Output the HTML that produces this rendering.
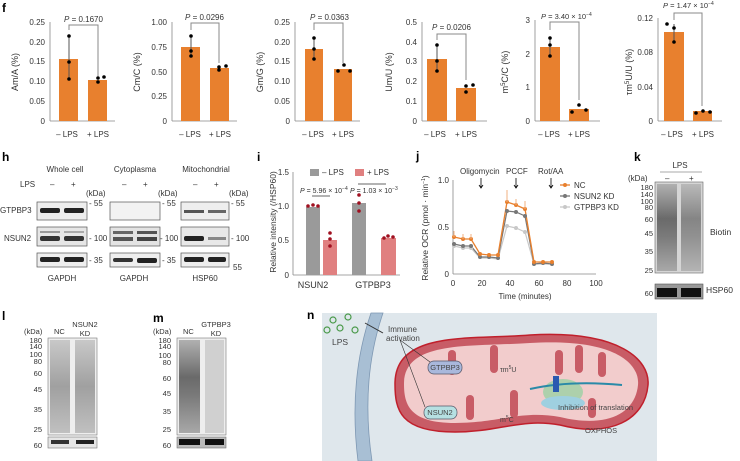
<!DOCTYPE html>
<html><head><meta charset="utf-8"><style>
body{margin:0;background:#fff}
svg{display:block;font-family:"Liberation Sans",sans-serif}
</style></head><body>
<svg width="740" height="461" viewBox="0 0 740 461" xmlns="http://www.w3.org/2000/svg">
<defs>
<linearGradient id="smear" x1="0" y1="0" x2="0" y2="1">
<stop offset="0" stop-color="#b0b0b0"/><stop offset="0.4" stop-color="#6a6a6a"/><stop offset="0.6" stop-color="#7a7a7a"/><stop offset="1" stop-color="#a8a8a8"/></linearGradient>
<linearGradient id="smear2" x1="0" y1="0" x2="0" y2="1">
<stop offset="0" stop-color="#c8c8c8"/><stop offset="0.5" stop-color="#a0a0a0"/><stop offset="1" stop-color="#c0c0c0"/></linearGradient>
</defs>
<g font-size="8" fill="#333">
<text x="2" y="12" font-size="12" font-weight="bold" fill="#000">f</text>
<g>
<line x1="50" y1="22" x2="50" y2="121" stroke="#888" stroke-width="0.8"/>
<line x1="50" y1="121" x2="115" y2="121" stroke="#888" stroke-width="0.8"/>
<g text-anchor="end"><text x="45" y="25">0.25</text><text x="45" y="45">0.20</text><text x="45" y="64">0.15</text><text x="45" y="84">0.10</text><text x="45" y="104">0.05</text><text x="45" y="124">0</text></g>
<rect x="59" y="59" width="19" height="62" fill="#e8802e"/><rect x="88" y="80" width="19" height="41" fill="#e8802e"/>
<line x1="69" y1="36" x2="69" y2="80" stroke="#555"/><circle cx="69" cy="36" r="1.8" fill="#000"/><circle cx="69" cy="62" r="1.8" fill="#000"/><circle cx="69" cy="79" r="1.8" fill="#000"/>
<circle cx="98" cy="82" r="1.8" fill="#000"/><circle cx="98" cy="78" r="1.8" fill="#000"/><circle cx="104" cy="77" r="1.8" fill="#000"/>
<path d="M69 30V25H98V76" fill="none" stroke="#888"/><text x="64" y="22"><tspan font-style="italic">P</tspan> = 0.1670</text>
<text x="67" y="137" text-anchor="middle">– LPS</text><text x="98" y="137" text-anchor="middle">+ LPS</text>
<text transform="translate(18,72) rotate(-90)" text-anchor="middle" font-size="9">Am/A (%)</text>
</g>
<g>
<line x1="172" y1="22" x2="172" y2="121" stroke="#888" stroke-width="0.8"/>
<line x1="172" y1="121" x2="237" y2="121" stroke="#888" stroke-width="0.8"/>
<g text-anchor="end"><text x="167" y="25">1.00</text><text x="167" y="50">0.75</text><text x="167" y="75">0.50</text><text x="167" y="99">0.25</text><text x="167" y="124">0</text></g>
<rect x="181" y="47" width="19" height="74" fill="#e8802e"/><rect x="210" y="68" width="19" height="53" fill="#e8802e"/>
<line x1="191" y1="36" x2="191" y2="57" stroke="#555"/><circle cx="191" cy="36" r="1.8" fill="#000"/><circle cx="191" cy="51" r="1.8" fill="#000"/><circle cx="191" cy="56" r="1.8" fill="#000"/>
<circle cx="219" cy="70" r="1.8" fill="#000"/><circle cx="219" cy="67" r="1.8" fill="#000"/><circle cx="226" cy="66" r="1.8" fill="#000"/>
<path d="M191 30V23H219V63" fill="none" stroke="#888"/><text x="185" y="20"><tspan font-style="italic">P</tspan> = 0.0296</text>
<text x="190" y="137" text-anchor="middle">– LPS</text><text x="220" y="137" text-anchor="middle">+ LPS</text>
<text transform="translate(140,72) rotate(-90)" text-anchor="middle" font-size="9">Cm/C (%)</text>
</g>
<g>
<line x1="295" y1="22" x2="295" y2="121" stroke="#888" stroke-width="0.8"/>
<line x1="295" y1="121" x2="360" y2="121" stroke="#888" stroke-width="0.8"/>
<g text-anchor="end"><text x="290" y="25">0.25</text><text x="290" y="45">0.20</text><text x="290" y="64">0.15</text><text x="290" y="84">0.10</text><text x="290" y="104">0.05</text><text x="290" y="124">0</text></g>
<rect x="305" y="49" width="18" height="72" fill="#e8802e"/><rect x="334" y="69" width="18" height="52" fill="#e8802e"/>
<line x1="314" y1="38" x2="314" y2="59" stroke="#555"/><circle cx="314" cy="38" r="1.8" fill="#000"/><circle cx="314" cy="49" r="1.8" fill="#000"/><circle cx="314" cy="59" r="1.8" fill="#000"/>
<circle cx="338" cy="71" r="1.8" fill="#000"/><circle cx="344" cy="65" r="1.8" fill="#000"/><circle cx="350" cy="71" r="1.8" fill="#000"/>
<path d="M314 30V23H343V63" fill="none" stroke="#888"/><text x="310" y="20"><tspan font-style="italic">P</tspan> = 0.0363</text>
<text x="313" y="137" text-anchor="middle">– LPS</text><text x="343" y="137" text-anchor="middle">+ LPS</text>
<text transform="translate(263,72) rotate(-90)" text-anchor="middle" font-size="9">Gm/G (%)</text>
</g>
<g>
<line x1="422" y1="22" x2="422" y2="121" stroke="#888" stroke-width="0.8"/>
<line x1="422" y1="121" x2="487" y2="121" stroke="#888" stroke-width="0.8"/>
<g text-anchor="end"><text x="417" y="25">0.5</text><text x="417" y="45">0.4</text><text x="417" y="64">0.3</text><text x="417" y="84">0.2</text><text x="417" y="104">0.1</text><text x="417" y="124">0</text></g>
<rect x="427" y="59" width="20" height="62" fill="#e8802e"/><rect x="456" y="88" width="20" height="33" fill="#e8802e"/>
<line x1="437" y1="45" x2="437" y2="71" stroke="#555"/><circle cx="437" cy="45" r="1.8" fill="#000"/><circle cx="437" cy="61" r="1.8" fill="#000"/><circle cx="437" cy="71" r="1.8" fill="#000"/>
<circle cx="466" cy="86" r="1.8" fill="#000"/><circle cx="466" cy="92" r="1.8" fill="#000"/><circle cx="473" cy="85" r="1.8" fill="#000"/>
<path d="M437 40V34H466V80" fill="none" stroke="#888"/><text x="432" y="30"><tspan font-style="italic">P</tspan> = 0.0206</text>
<text x="435" y="137" text-anchor="middle">– LPS</text><text x="466" y="137" text-anchor="middle">+ LPS</text>
<text transform="translate(392,72) rotate(-90)" text-anchor="middle" font-size="9">Um/U (%)</text>
</g>
<g>
<line x1="535" y1="20" x2="535" y2="121" stroke="#888" stroke-width="0.8"/>
<line x1="535" y1="121" x2="600" y2="121" stroke="#888" stroke-width="0.8"/>
<g text-anchor="end"><text x="530" y="23">3</text><text x="530" y="57">2</text><text x="530" y="90">1</text><text x="530" y="124">0</text></g>
<rect x="540" y="47" width="20" height="74" fill="#e8802e"/><rect x="569" y="109" width="20" height="12" fill="#e8802e"/>
<line x1="550" y1="38" x2="550" y2="56" stroke="#555"/><circle cx="550" cy="38" r="1.8" fill="#000"/><circle cx="550" cy="45" r="1.8" fill="#000"/><circle cx="550" cy="56" r="1.8" fill="#000"/>
<circle cx="572" cy="112" r="1.8" fill="#000"/><circle cx="579" cy="105" r="1.8" fill="#000"/><circle cx="586" cy="110" r="1.8" fill="#000"/>
<path d="M550 30V22H579V100" fill="none" stroke="#888"/><text x="541" y="19" font-size="7.5"><tspan font-style="italic">P</tspan> = 3.40 × 10<tspan dy="-3" font-size="5">−4</tspan></text>
<text x="549" y="137" text-anchor="middle">– LPS</text><text x="579" y="137" text-anchor="middle">+ LPS</text>
<text transform="translate(508,72) rotate(-90)" text-anchor="middle" font-size="9">m<tspan dy="-3" font-size="6">5</tspan><tspan dy="3">C/C (%)</tspan></text>
</g>
<g>
<line x1="658" y1="18" x2="658" y2="121" stroke="#888" stroke-width="0.8"/>
<line x1="658" y1="121" x2="722" y2="121" stroke="#888" stroke-width="0.8"/>
<g text-anchor="end"><text x="653" y="21">0.12</text><text x="653" y="55">0.08</text><text x="653" y="90">0.04</text><text x="653" y="124">0</text></g>
<rect x="664" y="32" width="20" height="89" fill="#e8802e"/><rect x="693" y="111" width="19" height="10" fill="#e8802e"/>
<line x1="674" y1="24" x2="674" y2="43" stroke="#555"/><circle cx="667" cy="24" r="1.8" fill="#000"/><circle cx="674" cy="28" r="1.8" fill="#000"/><circle cx="674" cy="42" r="1.8" fill="#000"/>
<circle cx="696" cy="113" r="1.8" fill="#000"/><circle cx="703" cy="111" r="1.8" fill="#000"/><circle cx="710" cy="112" r="1.8" fill="#000"/>
<path d="M674 20V13H702V106" fill="none" stroke="#888"/><text x="663" y="8" font-size="7.5"><tspan font-style="italic">P</tspan> = 1.47 × 10<tspan dy="-3" font-size="5">−4</tspan></text>
<text x="672" y="137" text-anchor="middle">– LPS</text><text x="703" y="137" text-anchor="middle">+ LPS</text>
<text transform="translate(632,72) rotate(-90)" text-anchor="middle" font-size="9">τm<tspan dy="-3" font-size="6">5</tspan><tspan dy="3">U/U (%)</tspan></text>
</g>
</g>

<!-- h -->
<g font-size="8" fill="#333">
<text x="2" y="161" font-size="12" font-weight="bold" fill="#000">h</text>
<text x="65" y="172" text-anchor="middle">Whole cell</text><text x="135" y="172" text-anchor="middle">Cytoplasma</text><text x="206" y="172" text-anchor="middle">Mitochondrial</text>
<text x="20" y="187">LPS</text>
<text x="50" y="187">–</text><text x="71" y="187">+</text><text x="122" y="187">–</text><text x="143" y="187">+</text><text x="193" y="187">–</text><text x="214" y="187">+</text>
<text x="86" y="196">(kDa)</text><text x="158" y="196">(kDa)</text><text x="229" y="196">(kDa)</text>
<text x="0" y="213">GTPBP3</text><text x="4" y="241">NSUN2</text>
<rect x="37" y="202" width="50" height="18" fill="#ededed" stroke="#555" stroke-width="0.7"/>
<rect x="40" y="208" width="20" height="5" rx="2" fill="#222"/><rect x="64" y="208" width="20" height="5" rx="2" fill="#222"/>
<rect x="37" y="227" width="50" height="19" fill="#e6e6e6" stroke="#555" stroke-width="0.7"/>
<rect x="40" y="231" width="20" height="2" fill="#999"/><rect x="64" y="231" width="20" height="2" fill="#aaa"/>
<rect x="40" y="236" width="20" height="5" rx="2" fill="#333"/><rect x="64" y="236" width="20" height="5" rx="2" fill="#333"/>
<rect x="37" y="253" width="50" height="14" fill="#eee" stroke="#555" stroke-width="0.7"/>
<rect x="40" y="257" width="20" height="5" rx="2" fill="#222"/><rect x="64" y="257" width="20" height="5" rx="2" fill="#222"/>
<rect x="110" y="202" width="50" height="18" fill="#f2f2f2" stroke="#555" stroke-width="0.7"/>
<rect x="110" y="227" width="50" height="19" fill="#e3e3e3" stroke="#555" stroke-width="0.7"/>
<rect x="113" y="231" width="20" height="3" fill="#666"/><rect x="137" y="231" width="20" height="3" fill="#555"/>
<rect x="113" y="237" width="20" height="4" fill="#555"/><rect x="137" y="237" width="20" height="4" fill="#444"/>
<rect x="110" y="253" width="50" height="14" fill="#eee" stroke="#555" stroke-width="0.7"/>
<rect x="113" y="258" width="20" height="4" rx="2" fill="#333"/><rect x="137" y="258" width="20" height="5" rx="2" fill="#222"/>
<rect x="181" y="202" width="48" height="18" fill="#eee" stroke="#555" stroke-width="0.7"/>
<rect x="184" y="210" width="20" height="3" fill="#555"/><rect x="208" y="210" width="18" height="3" fill="#666"/>
<rect x="181" y="227" width="48" height="19" fill="#e8e8e8" stroke="#555" stroke-width="0.7"/>
<rect x="184" y="236" width="20" height="5" rx="2" fill="#222"/><rect x="208" y="237" width="18" height="3" fill="#888"/>
<rect x="181" y="253" width="48" height="14" fill="#eee" stroke="#555" stroke-width="0.7"/>
<rect x="184" y="257" width="20" height="5" rx="2" fill="#222"/><rect x="208" y="257" width="18" height="5" rx="2" fill="#222"/>
<text x="89" y="206">- 55</text><text x="89" y="241">- 100</text><text x="89" y="263">- 35</text>
<text x="162" y="206">- 55</text><text x="160" y="241">- 100</text><text x="162" y="263">- 35</text>
<text x="231" y="206">- 55</text><text x="231" y="241">- 100</text><text x="233" y="270">55</text>
<text x="62" y="281" text-anchor="middle">GAPDH</text><text x="134" y="281" text-anchor="middle">GAPDH</text><text x="205" y="281" text-anchor="middle">HSP60</text>
</g>

<!-- i -->
<g font-size="8" fill="#333">
<text x="257" y="161" font-size="12" font-weight="bold" fill="#000">i</text>
<line x1="293" y1="172" x2="293" y2="275" stroke="#888" stroke-width="0.8"/>
<line x1="293" y1="275" x2="400" y2="275" stroke="#888" stroke-width="0.8"/>
<g text-anchor="end"><text x="289" y="175">1.5</text><text x="289" y="209">1.0</text><text x="289" y="243">0.5</text><text x="289" y="278">0</text></g>
<rect x="306" y="207" width="14" height="68" fill="#9a9a9a"/><rect x="323" y="240" width="14" height="35" fill="#e08080"/>
<rect x="352" y="203" width="14" height="72" fill="#9a9a9a"/><rect x="381" y="238" width="15" height="37" fill="#e08080"/>
<g fill="#a01020"><circle cx="308" cy="206" r="1.8"/><circle cx="313" cy="205" r="1.8"/><circle cx="318" cy="206" r="1.8"/><circle cx="330" cy="233" r="1.8"/><circle cx="330" cy="239" r="1.8"/><circle cx="330" cy="246" r="1.8"/><circle cx="359" cy="195" r="1.8"/><circle cx="359" cy="203" r="1.8"/><circle cx="359" cy="211" r="1.8"/><circle cx="384" cy="238" r="1.8"/><circle cx="388" cy="236" r="1.8"/><circle cx="393" cy="237" r="1.8"/></g>
<rect x="310" y="169" width="9" height="7" fill="#9a9a9a"/><text x="322" y="175">– LPS</text>
<rect x="355" y="169" width="9" height="7" fill="#e08080"/><text x="367" y="175">+ LPS</text>
<text x="300" y="193" font-size="7"><tspan font-style="italic">P</tspan> = 5.96 × 10<tspan dy="-3" font-size="5">−4</tspan></text>
<text x="350" y="193" font-size="7"><tspan font-style="italic">P</tspan> = 1.03 × 10<tspan dy="-3" font-size="5">−3</tspan></text>
<line x1="312" y1="196" x2="330" y2="196" stroke="#666"/><line x1="358" y1="184" x2="386" y2="184" stroke="#666"/>
<text x="313" y="288" text-anchor="middle" font-size="9">NSUN2</text><text x="373" y="288" text-anchor="middle" font-size="9">GTPBP3</text>
<text transform="translate(276,222) rotate(-90)" text-anchor="middle" font-size="8.5">Relative intensity (/HSP60)</text>
</g>

<!-- j -->
<g font-size="8" fill="#333">
<text x="416" y="160" font-size="12" font-weight="bold" fill="#000">j</text>
<line x1="453" y1="180" x2="453" y2="274" stroke="#888" stroke-width="0.8"/>
<line x1="453" y1="274" x2="596" y2="274" stroke="#888" stroke-width="0.8"/>
<g text-anchor="end"><text x="449" y="183">1.0</text><text x="449" y="230">0.5</text><text x="449" y="277">0</text></g>
<g text-anchor="middle"><text x="453" y="286">0</text><text x="482" y="286">20</text><text x="510" y="286">40</text><text x="539" y="286">60</text><text x="567" y="286">80</text><text x="596" y="286">100</text></g>
<text x="525" y="299" text-anchor="middle">Time (minutes)</text>
<text transform="translate(428,228) rotate(-90)" text-anchor="middle" font-size="8.5">Relative OCR (pmol · min<tspan dy="-3" font-size="5">−1</tspan><tspan dy="3">)</tspan></text>
<text x="460" y="174">Oligomycin</text><text x="506" y="174">PCCF</text><text x="538" y="174">Rot/AA</text>
<path d="M481 178v10m-2-3l2 3l2-3M516 178v10m-2-3l2 3l2-3M551 178v10m-2-3l2 3l2-3" stroke="#000" fill="none" stroke-width="0.8"/>
<polyline points="454,246 463,248 471,248 480,258 489,258 498,259 507,226 516,228 525,232 534,264 543,264 552,264" fill="none" stroke="#c8c8c8" stroke-width="1.2"/>
<polyline points="454,244 463,246 471,246 480,257 489,257 498,258 507,211 516,212 525,216 534,264 543,263 552,264" fill="none" stroke="#777" stroke-width="1.2"/>
<polyline points="454,237 463,239 471,239 480,254 489,255 498,255 507,202 516,205 525,209 534,262 543,262 552,262" fill="none" stroke="#e8802e" stroke-width="1.3"/>
<g fill="#c8c8c8"><circle cx="454" cy="246" r="2"/><circle cx="463" cy="248" r="2"/><circle cx="471" cy="248" r="2"/><circle cx="507" cy="226" r="2"/><circle cx="516" cy="228" r="2"/><circle cx="525" cy="232" r="2"/></g>
<g fill="#777"><circle cx="454" cy="244" r="2"/><circle cx="463" cy="246" r="2"/><circle cx="471" cy="246" r="2"/><circle cx="480" cy="257" r="2"/><circle cx="489" cy="257" r="2"/><circle cx="498" cy="258" r="2"/><circle cx="507" cy="211" r="2"/><circle cx="516" cy="212" r="2"/><circle cx="525" cy="216" r="2"/><circle cx="534" cy="264" r="2"/><circle cx="543" cy="263" r="2"/><circle cx="552" cy="264" r="2"/></g>
<g fill="#e8802e"><circle cx="454" cy="237" r="2"/><circle cx="463" cy="239" r="2"/><circle cx="471" cy="239" r="2"/><circle cx="480" cy="254" r="2"/><circle cx="489" cy="255" r="2"/><circle cx="498" cy="255" r="2"/><circle cx="507" cy="202" r="2"/><circle cx="516" cy="205" r="2"/><circle cx="525" cy="209" r="2"/><circle cx="534" cy="262" r="2"/><circle cx="543" cy="262" r="2"/><circle cx="552" cy="262" r="2"/></g>
<path d="M454 237v-6M463 239v-5M471 239v-5M507 202v-12M516 205v-6M525 209v-8" stroke="#f0b080"/>
<line x1="560" y1="185" x2="570" y2="185" stroke="#e8802e" stroke-width="1.3"/><circle cx="565" cy="185" r="2" fill="#e8802e"/><text x="574" y="188">NC</text>
<line x1="560" y1="196" x2="570" y2="196" stroke="#777" stroke-width="1.3"/><circle cx="565" cy="196" r="2" fill="#777"/><text x="574" y="199">NSUN2 KD</text>
<line x1="560" y1="207" x2="570" y2="207" stroke="#c8c8c8" stroke-width="1.3"/><circle cx="565" cy="207" r="2" fill="#c8c8c8"/><text x="574" y="210">GTPBP3 KD</text>
</g>

<!-- k -->
<g font-size="8" fill="#333">
<text x="634" y="161" font-size="12" font-weight="bold" fill="#000">k</text>
<text x="680" y="168" text-anchor="middle">LPS</text><line x1="660" y1="172" x2="702" y2="172" stroke="#555" stroke-width="0.6"/>
<text x="628" y="181">(kDa)</text><text x="665" y="181">–</text><text x="689" y="181">+</text>
<rect x="655" y="182" width="48" height="91" fill="#d5d5d5" stroke="#666" stroke-width="0.6"/>
<rect x="657" y="184" width="20" height="87" fill="url(#smear)"/><rect x="681" y="184" width="20" height="87" fill="url(#smear)" opacity="0.75"/>
<g font-size="7.5" text-anchor="end"><text x="653" y="190">180</text><text x="653" y="197">140</text><text x="653" y="204">100</text><text x="653" y="210">80</text><text x="653" y="222">60</text><text x="653" y="236">45</text><text x="653" y="254">35</text><text x="653" y="273">25</text><text x="653" y="296">60</text></g>
<text x="710" y="235" font-size="8.5">Biotin</text>
<rect x="655" y="284" width="48" height="15" fill="#999" stroke="#555" stroke-width="0.6"/>
<rect x="657" y="288" width="20" height="9" fill="#111"/><rect x="681" y="288" width="20" height="9" fill="#111"/>
<text x="706" y="293" font-size="8.5">HSP60</text>
</g>

<!-- l m -->
<g font-size="7.5" fill="#333">
<text x="2" y="320" font-size="12" font-weight="bold" fill="#000">l</text>
<text x="24" y="334">(kDa)</text><text x="54" y="334">NC</text><text x="85" y="327" text-anchor="middle">NSUN2</text><text x="85" y="336" text-anchor="middle">KD</text>
<rect x="48" y="338" width="49" height="97" fill="#eee" stroke="#777" stroke-width="0.6"/>
<rect x="50" y="340" width="20" height="93" fill="url(#smear2)"/><rect x="75" y="340" width="20" height="93" fill="url(#smear2)"/>
<g text-anchor="end"><text x="42" y="343">180</text><text x="42" y="349">140</text><text x="42" y="357">100</text><text x="42" y="364">80</text><text x="42" y="376">60</text><text x="42" y="392">45</text><text x="42" y="412">35</text><text x="42" y="432">25</text><text x="42" y="448">60</text></g>
<rect x="48" y="437" width="49" height="11" fill="#e5e5e5" stroke="#777" stroke-width="0.6"/>
<rect x="51" y="440" width="18" height="4" fill="#333"/><rect x="76" y="440" width="18" height="4" fill="#222"/>
<text x="153" y="322" font-size="12" font-weight="bold" fill="#000">m</text>
<text x="153" y="334">(kDa)</text><text x="183" y="334">NC</text><text x="216" y="327" text-anchor="middle">GTPBP3</text><text x="216" y="336" text-anchor="middle">KD</text>
<rect x="177" y="338" width="49" height="97" fill="#eee" stroke="#777" stroke-width="0.6"/>
<rect x="179" y="340" width="21" height="93" fill="url(#smear)"/><rect x="205" y="340" width="19" height="93" fill="#d0d0d0"/>
<g text-anchor="end"><text x="171" y="343">180</text><text x="171" y="349">140</text><text x="171" y="358">100</text><text x="171" y="365">80</text><text x="171" y="381">60</text><text x="171" y="396">45</text><text x="171" y="414">35</text><text x="171" y="432">25</text><text x="171" y="448">60</text></g>
<rect x="177" y="437" width="49" height="11" fill="#bbb" stroke="#777" stroke-width="0.6"/>
<rect x="179" y="439" width="21" height="6" fill="#111"/><rect x="205" y="439" width="19" height="6" fill="#111"/>
</g>

<!-- n -->
<g font-size="8" fill="#444">
<text x="307" y="319" font-size="12" font-weight="bold" fill="#000">n</text>
<rect x="322" y="313" width="335" height="148" fill="#dfe7ec"/>
<path d="M383 313 Q360 380 372 461 L358 461 Q348 380 371 313Z" fill="#a8bfd4" stroke="#7e98b3" stroke-width="0.8"/>
<g fill="none" stroke="#4a9a4a" stroke-width="1.2"><circle cx="333" cy="320" r="3"/><circle cx="348" cy="317" r="3"/><circle cx="327" cy="330" r="3"/><circle cx="340" cy="328" r="3"/><circle cx="355" cy="330" r="3"/></g>
<text x="332" y="345" font-size="8.5">LPS</text>
<line x1="365" y1="323" x2="383" y2="333" stroke="#333"/>
<text x="388" y="332">Immune</text><text x="386" y="341">activation</text>
<path d="M395 384 C395 330 470 340 530 335 C620 330 650 360 648 385 C645 420 610 438 560 425 C520 418 500 432 455 432 C400 432 395 410 395 384Z" fill="#c85c66" stroke="#c0202c" stroke-width="1.5"/>
<path d="M404 384 C404 340 470 347 530 343 C612 338 640 362 638 385 C635 415 605 428 560 417 C520 410 500 423 455 423 C410 423 404 405 404 384Z" fill="#f2cccc"/>
<g fill="#c85c66"><rect x="448" y="350" width="8" height="25" rx="4"/><rect x="466" y="395" width="8" height="25" rx="4"/><rect x="490" y="345" width="8" height="28" rx="4"/><rect x="510" y="390" width="8" height="28" rx="4"/><rect x="555" y="350" width="8" height="25" rx="4"/><rect x="575" y="345" width="8" height="28" rx="4"/><rect x="598" y="352" width="8" height="25" rx="4"/><rect x="588" y="398" width="8" height="20" rx="4"/></g>
<rect x="428" y="361" width="34" height="13" rx="6" fill="#a9b8dc" stroke="#556" stroke-width="0.7"/><text x="445" y="370" text-anchor="middle" font-size="7.5">GTPBP3</text>
<rect x="424" y="406" width="33" height="13" rx="6" fill="#b6e0e2" stroke="#556" stroke-width="0.7"/><text x="440" y="415" text-anchor="middle" font-size="7.5">NSUN2</text>
<text x="500" y="372" font-size="7">τm<tspan dy="-3" font-size="5">5</tspan><tspan dy="3">U</tspan></text>
<text x="500" y="422" font-size="7">m<tspan dy="-3" font-size="5">5</tspan><tspan dy="3">C</tspan></text>
<ellipse cx="563" cy="392" rx="20" ry="13" fill="#a5d0a8" opacity="0.9"/><ellipse cx="563" cy="403" rx="22" ry="7" fill="#9fd0e0"/>
<path d="M530 389 Q570 380 622 385" stroke="#2a8aa8" stroke-width="2" fill="none"/>
<rect x="553" y="376" width="6" height="16" fill="#2a5ab0"/>
<text x="558" y="410" font-size="7.5">Inhibition of translation</text>
<text x="585" y="433" font-size="7.5">OXPHOS</text>
<path d="M400 340L430 362M400 340L425 407" stroke="#333" stroke-width="0.6" fill="none"/>
</g>
</svg>
</body></html>
